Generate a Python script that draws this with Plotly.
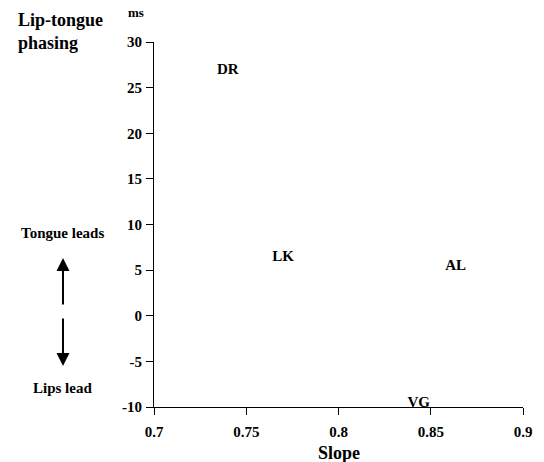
import plotly.graph_objects as go

speakers = ["DR", "LK", "AL", "VG"]
slope = [0.740, 0.770, 0.8635, 0.8435]
phasing = [26.9, 6.4, 5.4, -9.6]

x_ticks = [0.7, 0.75, 0.8, 0.85, 0.9]
x_ticktext = ["0.7", "0.75", "0.8", "0.85", "0.9"]
y_ticks = [-10, -5, 0, 5, 10, 15, 20, 25, 30]
y_ticktext = ["-10", "-5", "0", "5", "10", "15", "20", "25", "30"]

FONT = "Liberation Serif"
W, H = 544, 462
L, R, T, B = 154, 17, 42, 55
pw, ph = W - L - R, H - T - B

def px(xp):
    return (xp - L) / pw

def py(yp):
    return (H - B - yp) / ph

fig = go.Figure()
fig.add_trace(go.Scatter(
    x=slope, y=phasing, mode="text", text=["<b>%s</b>" % s for s in speakers],
    textposition="middle center",
    textfont=dict(family=FONT, size=15, color="black"),
    showlegend=False, hoverinfo="skip",
))

axis_common = dict(
    showgrid=False, zeroline=False, showline=True, linecolor="black", linewidth=1.2,
    ticks="outside", ticklen=7, tickwidth=1.2, tickcolor="black",
    tickfont=dict(family=FONT, size=15, color="black"),
)

fig.update_xaxes(range=[0.7, 0.9], tickvals=x_ticks, ticklabelstandoff=4,
                 ticktext=["<b>%s</b>" % t for t in x_ticktext], **axis_common)
fig.update_yaxes(range=[-10, 30], tickvals=y_ticks, ticklabelstandoff=1,
                 ticktext=["<b>%s</b>" % t for t in y_ticktext], **axis_common)

ann_font = dict(family=FONT, size=18, color="black")
small_font = dict(family=FONT, size=15, color="black")
annotations = [
    dict(text="<b>Lip-tongue<br>phasing</b>", x=px(14), y=py(8), xanchor="left", yanchor="top",
         align="left", font=ann_font),
    dict(text="<b>ms</b>", x=px(136), y=py(22), xanchor="center", yanchor="bottom",
         font=dict(family=FONT, size=13, color="black")),
    dict(text="<b>Tongue leads</b>", x=px(62), y=py(233), xanchor="center", yanchor="middle",
         font=small_font),
    dict(text="<b>Lips lead</b>", x=px(62), y=py(388), xanchor="center", yanchor="middle",
         font=small_font),
    dict(text="<b>Slope</b>", x=px(341), y=py(453), xanchor="center", yanchor="middle",
         font=ann_font),
]
for a in annotations:
    a.update(xref="paper", yref="paper", showarrow=False)

arrows = [
    dict(x=px(62), y=py(258), ax=0, ay=48),
    dict(x=px(62), y=py(366), ax=0, ay=-49),
]
for a in arrows:
    a.update(xref="paper", yref="paper", text="", showarrow=True, arrowhead=2,
             arrowsize=1.3, arrowwidth=2, arrowcolor="black")

fig.update_layout(
    width=W, height=H, margin=dict(l=L, r=R, t=T, b=B),
    plot_bgcolor="white", paper_bgcolor="white",
    font=dict(family=FONT),
    annotations=annotations + arrows,
)

fig.write_html("out.html")
